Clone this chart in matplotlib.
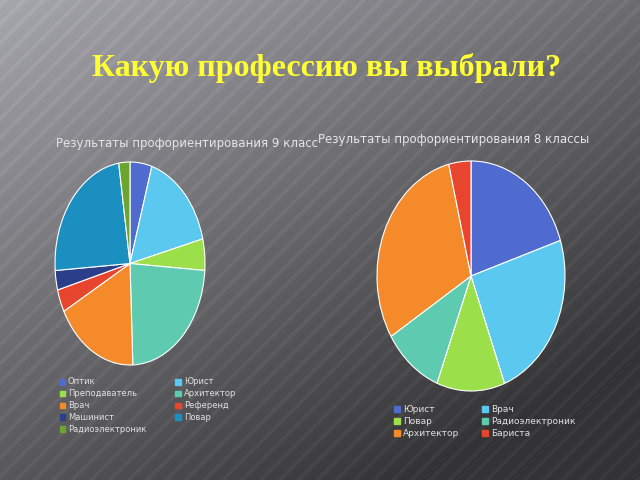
import matplotlib
matplotlib.use("Agg")
import matplotlib.pyplot as plt
import numpy as np
from matplotlib.patches import Patch

labels9 = ["Оптик", "Юрист", "Преподаватель", "Архитектор", "Врач", "Референд", "Машинист", "Повар", "Радиоэлектроник"]
values9 = [4.7, 16.4, 5.0, 23.3, 17.8, 3.6, 3.1, 23.7, 2.4]
colors9 = ["#4f6bd0", "#5bc8f0", "#9be04a", "#5ecbb0", "#f58a2a", "#e8452e", "#2a3e8a", "#1a8fc0", "#6aa530"]

labels8 = ["Юрист", "Врач", "Повар", "Радиоэлектроник", "Архитектор", "Бариста"]
values8 = [20.0, 24.2, 11.7, 10.3, 30.0, 3.8]
colors8 = ["#4f6bd0", "#5bc8f0", "#9be04a", "#5ecbb0", "#f58a2a", "#e8452e"]

fig = plt.figure(figsize=(6.4, 4.8), dpi=100)
bg = fig.add_axes([0, 0, 1, 1])
y, x = np.mgrid[0:480, 0:640]
g = 1 - np.clip((x / 640 * 0.55 + y / 480 * 0.75), 0, 1.1) / 1.1
stripes = 0.03 * (np.sin((x + y) / 3.0) > 0.6)
val = 0.2 + 0.45 * g + stripes
bg.imshow(np.dstack([val, val, val * 1.04]).clip(0, 1), aspect="auto", extent=[0, 1, 0, 1])
bg.axis("off")

fig.text(0.51, 1 - 68 / 480, "Какую профессию вы выбрали?", color="#ffff33", fontsize=23,
         fontweight="bold", family="Liberation Serif", ha="center", va="center")

def px(l, t, w, h):
    return [l / 640, 1 - (t + h) / 480, w / 640, h / 480]

def pie(ax, vals, cols):
    ax.pie(vals, colors=cols, startangle=90, counterclock=False,
           wedgeprops=dict(linewidth=0.8, edgecolor="white"))
    ax.set_aspect("auto")
    ax.set_xlim(-1, 1)
    ax.set_ylim(-1, 1)

ax1 = fig.add_axes(px(55, 162, 150, 203))
pie(ax1, values9, colors9)
fig.text(56 / 640, 1 - 143 / 480, "Результаты профориентирования 9 класс", color="#e6e6e6",
         fontsize=8.5, va="center")

ax2 = fig.add_axes(px(377, 161, 188, 230))
pie(ax2, values8, colors8)
fig.text(318 / 640, 1 - 139 / 480, "Результаты профориентирования 8 классы", color="#e6e6e6",
         fontsize=8.5, va="center")

def colmajor(items, ncol):
    rows = -(-len(items) // ncol)
    out = []
    for c in range(ncol):
        for r in range(rows):
            i = r * ncol + c
            if i < len(items):
                out.append(items[i])
    return out

h9 = colmajor([Patch(color=c, label=l) for c, l in zip(colors9, labels9)], 2)
fig.legend(handles=h9, ncol=2, loc="upper left", bbox_to_anchor=(52 / 640, 1 - 370 / 480),
           frameon=False, fontsize=6, labelcolor="#e0e0e0", handlelength=0.7, handleheight=0.7,
           columnspacing=3.5, labelspacing=0.35, handletextpad=0.3)
h8 = colmajor([Patch(color=c, label=l) for c, l in zip(colors8, labels8)], 2)
fig.legend(handles=h8, ncol=2, loc="upper left", bbox_to_anchor=(386 / 640, 1 - 397 / 480),
           frameon=False, fontsize=6.5, labelcolor="#e0e0e0", handlelength=0.7, handleheight=0.7,
           columnspacing=2.5, labelspacing=0.35, handletextpad=0.3)

fig.savefig("out.png", dpi=100)
